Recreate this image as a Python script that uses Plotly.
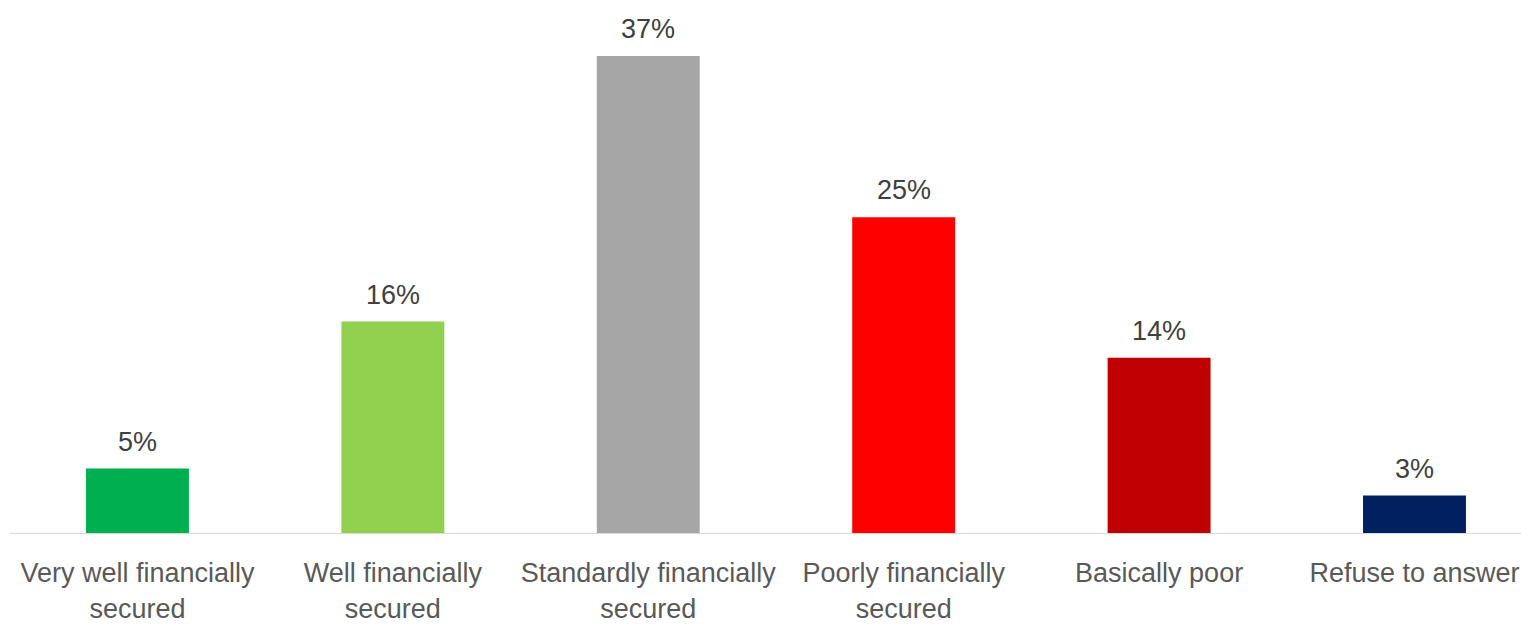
import plotly.graph_objects as go

categories = ["Very well financially<br>secured", "Well financially<br>secured",
              "Standardly financially<br>secured", "Poorly financially<br>secured",
              "Basically poor", "Refuse to answer"]
values = [5.0, 16.4, 37.0, 24.5, 13.6, 2.9]
value_labels = ["5%", "16%", "37%", "25%", "14%", "3%"]
colors = ["#00B050", "#92D050", "#A6A6A6", "#FF0000", "#C00000", "#002060"]

x = list(range(len(categories)))

fig = go.Figure()
fig.add_trace(go.Bar(x=x, y=values, marker=dict(color=colors, line=dict(width=0)),
                     width=0.403, hoverinfo="skip"))

for xi, v, lab in zip(x, values, value_labels):
    fig.add_annotation(x=xi, y=v, text=lab, showarrow=False, yanchor="bottom",
                       yshift=10, font=dict(family="Liberation Sans, Arial", size=27, color="#404040"))

fig.update_layout(
    width=1521, height=626,
    margin=dict(l=10, r=0, t=0, b=93),
    plot_bgcolor="white", paper_bgcolor="white",
    showlegend=False,
    xaxis=dict(range=[-0.499, 5.417], tickmode="array", tickvals=x, ticktext=categories,
               showline=True, linecolor="#D9D9D9", linewidth=1, showgrid=False, zeroline=False,
               ticks="outside", ticklen=16, tickcolor="rgba(0,0,0,0)",
               tickfont=dict(family="Liberation Sans, Arial", size=27, color="#595959")),
    yaxis=dict(range=[0, 41.35], visible=False, showgrid=False, zeroline=False),
)

fig.write_html("out.html", config={"displayModeBar": False},
               post_script="document.body.style.margin='0px';document.body.style.overflow='hidden';")
